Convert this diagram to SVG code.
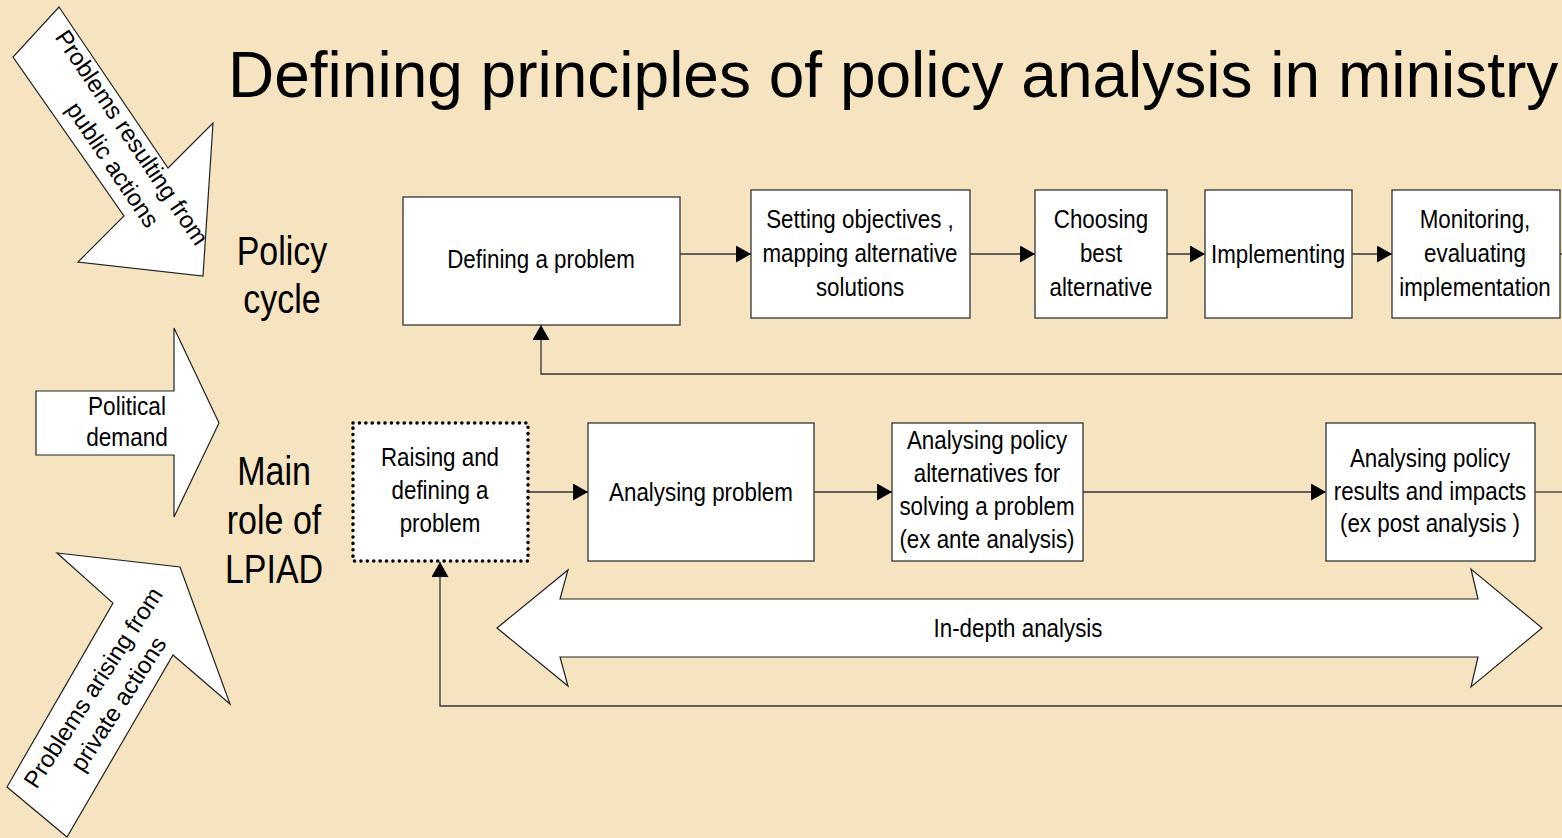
<svg xmlns="http://www.w3.org/2000/svg" width="1562" height="838" viewBox="0 0 1562 838">
<style>
text{font-family:"Liberation Sans",Arial,sans-serif;fill:#000}
.box{fill:#fff;stroke:#333;stroke-width:1.3}
.big{fill:#fff;stroke:#222;stroke-width:1.2}
.bt{font-size:26px;text-anchor:middle}
.lb{font-size:40px;text-anchor:middle}
.at{font-size:24px;text-anchor:middle}
.c{fill:none;stroke:#333;stroke-width:1.3}
</style>
<defs>
<marker id="ah" markerUnits="userSpaceOnUse" markerWidth="16" markerHeight="18" refX="15" refY="8.5" orient="auto">
<path d="M0,0 L15,8.5 L0,17 z" fill="#000"/>
</marker>
</defs>
<rect width="1562" height="838" fill="#F5E4BF"/>
<text x="228" y="97" font-size="64">Defining principles of policy analysis in ministry</text>

<g id="arrow-public">
<polygon class="big" points="59,7 168,168 213,123 203,276 78,262 124,216 13,57"/>
<text class="at" transform="translate(125 142) rotate(56)"><tspan x="0" y="0">Problems resulting from</tspan><tspan x="12" y="31">public actions</tspan></text>
</g>
<g id="arrow-political">
<polygon class="big" points="36,391 174,391 174,328 219,423 174,517 174,455 36,455"/>
<text class="bt" font-size="25" transform="translate(127 0) scale(0.87 1)"><tspan x="0" y="415">Political</tspan><tspan x="0" y="446">demand</tspan></text>
</g>
<g id="arrow-private">
<polygon class="big" points="180,567 230,704 173,655 67,837 7,787 113,603 57,553"/>
<text class="at" transform="translate(100 692) rotate(-57)"><tspan x="0" y="0">Problems arising from</tspan><tspan x="0" y="30">private actions</tspan></text>
</g>

<g id="label-policy-cycle">
<text class="lb" transform="translate(282 0) scale(0.85 1)"><tspan x="0" y="265">Policy</tspan><tspan x="0" y="313">cycle</tspan></text>
</g>
<g id="label-main-role">
<text class="lb" transform="translate(274 0) scale(0.85 1)"><tspan x="0" y="485">Main</tspan><tspan x="0" y="534">role of</tspan><tspan x="0" y="583">LPIAD</tspan></text>
</g>

<g id="connectors">
<path class="c" d="M680,254 H751" marker-end="url(#ah)"/>
<path class="c" d="M970,254 H1035" marker-end="url(#ah)"/>
<path class="c" d="M1167,254 H1205" marker-end="url(#ah)"/>
<path class="c" d="M1352,254 H1392" marker-end="url(#ah)"/>
<path class="c" d="M1560,254 H1562"/>
<path class="c" d="M1562,374 H541 V325" marker-end="url(#ah)"/>
<path class="c" d="M528,492 H588" marker-end="url(#ah)"/>
<path class="c" d="M814,492 H892" marker-end="url(#ah)"/>
<path class="c" d="M1083,492 H1326" marker-end="url(#ah)"/>
<path class="c" d="M1535,492 H1562"/>
<path class="c" d="M1562,706 H440 V562" marker-end="url(#ah)"/>
</g>

<g id="defining-problem">
<rect class="box" x="403" y="197" width="277" height="128"/>
<text class="bt" transform="translate(541 0) scale(0.86 1)"><tspan x="0" y="268">Defining a problem</tspan></text>
</g>
<g id="setting-objectives">
<rect class="box" x="751" y="190" width="219" height="128"/>
<text class="bt" transform="translate(860 0) scale(0.86 1)"><tspan x="0" y="228">Setting objectives ,</tspan><tspan x="0" y="262">mapping alternative</tspan><tspan x="0" y="296">solutions</tspan></text>
</g>
<g id="choosing-best">
<rect class="box" x="1035" y="190" width="132" height="128"/>
<text class="bt" transform="translate(1101 0) scale(0.86 1)"><tspan x="0" y="228">Choosing</tspan><tspan x="0" y="262">best</tspan><tspan x="0" y="296">alternative</tspan></text>
</g>
<g id="implementing">
<rect class="box" x="1205" y="190" width="147" height="128"/>
<text class="bt" transform="translate(1278 0) scale(0.86 1)"><tspan x="0" y="263">Implementing</tspan></text>
</g>
<g id="monitoring">
<rect class="box" x="1392" y="190" width="168" height="128"/>
<text class="bt" transform="translate(1475 0) scale(0.86 1)"><tspan x="0" y="228">Monitoring,</tspan><tspan x="0" y="262">evaluating</tspan><tspan x="0" y="296">implementation</tspan></text>
</g>

<g id="raising-defining">
<rect x="353" y="423" width="175" height="138" fill="#fff" stroke="#000" stroke-width="3.5" stroke-dasharray="0.1 6.3" stroke-linecap="round"/>
<text class="bt" transform="translate(440 0) scale(0.86 1)"><tspan x="0" y="466">Raising and</tspan><tspan x="0" y="499">defining a</tspan><tspan x="0" y="532">problem</tspan></text>
</g>
<g id="analysing-problem">
<rect class="box" x="588" y="423" width="226" height="138"/>
<text class="bt" transform="translate(701 0) scale(0.86 1)"><tspan x="0" y="501">Analysing problem</tspan></text>
</g>
<g id="analysing-alternatives">
<rect class="box" x="892" y="423" width="191" height="138"/>
<text class="bt" transform="translate(987 0) scale(0.86 1)"><tspan x="0" y="449">Analysing policy</tspan><tspan x="0" y="482">alternatives for</tspan><tspan x="0" y="515">solving a problem</tspan><tspan x="0" y="548">(ex ante analysis)</tspan></text>
</g>
<g id="analysing-results">
<rect class="box" x="1326" y="423" width="209" height="138"/>
<text class="bt" transform="translate(1430 0) scale(0.86 1)"><tspan x="0" y="467">Analysing policy</tspan><tspan x="0" y="500">results and impacts</tspan><tspan x="0" y="532">(ex post analysis )</tspan></text>
</g>

<g id="in-depth-analysis">
<polygon class="big" points="497,628 568,570 560,599 1478,599 1471,569 1542,628 1471,687 1478,657 560,657 568,686"/>
<text class="bt" transform="translate(1018 0) scale(0.86 1)"><tspan x="0" y="637">In-depth analysis</tspan></text>
</g>
</svg>
